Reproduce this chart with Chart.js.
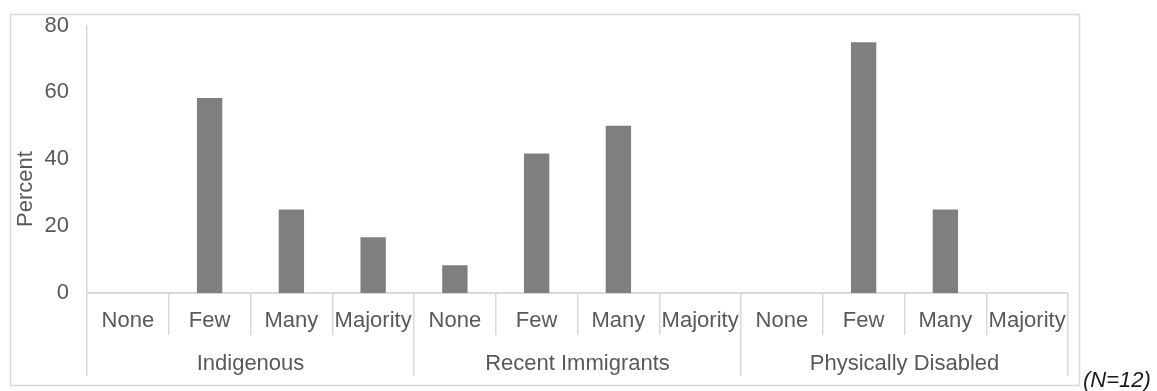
<!DOCTYPE html>
<html>
<head>
<meta charset="utf-8">
<title>Percent by group</title>
<script src="https://cdn.jsdelivr.net/npm/chart.js@4.4.1/dist/chart.umd.min.js"></script>
<style>
  html, body { margin: 0; padding: 0; background: #ffffff; }
  #chart { display: block; }
</style>
</head>
<body>
<canvas id="chart" width="1157" height="391"></canvas>
<script>
  // --- data ---
  var levelLabels = ['None', 'Few', 'Many', 'Majority',
                     'None', 'Few', 'Many', 'Majority',
                     'None', 'Few', 'Many', 'Majority'];
  var groupLabels = ['Indigenous', 'Recent Immigrants', 'Physically Disabled'];
  var percentValues = [0, 58.3, 25, 16.7,
                       8.3, 41.7, 50, 0,
                       0, 75, 25, 0];
  var yTickValues = [0, 20, 40, 60, 80];
  var yTitle = 'Percent';
  var sampleNote = '(N=12)';

  var LINE = '#d9d9d9';
  var TEXT = '#595959';
  var FONT = '"Liberation Sans", Arial, sans-serif';

  // outer frame, the rotated axis title and the sample size note
  var framePlugin = {
    id: 'frame',
    beforeDraw: function (chart) {
      var ctx = chart.ctx;
      ctx.save();
      ctx.fillStyle = '#ffffff';
      ctx.fillRect(0, 0, chart.width, chart.height);
      ctx.restore();
    },
    afterDraw: function (chart) {
      var ctx = chart.ctx;
      ctx.save();
      ctx.strokeStyle = LINE;
      ctx.lineWidth = 1.5;
      ctx.strokeRect(10.5, 14.5, 1069, 371);

      ctx.fillStyle = TEXT;
      ctx.font = '22px ' + FONT;
      ctx.textAlign = 'center';
      ctx.textBaseline = 'middle';
      ctx.translate(26, 189);
      ctx.rotate(-Math.PI / 2);
      ctx.fillText(yTitle, 0, 0);
      ctx.restore();

      ctx.save();
      ctx.fillStyle = '#1a1a1a';
      ctx.font = 'italic 22px ' + FONT;
      ctx.textBaseline = 'alphabetic';
      ctx.textAlign = 'left';
      ctx.fillText(sampleNote, 1083, 387);
      ctx.restore();
    }
  };

  var ctx = document.getElementById('chart').getContext('2d');
  new Chart(ctx, {
    type: 'bar',
    data: {
      labels: levelLabels,
      datasets: [{
        label: 'Percent',
        data: percentValues,
        backgroundColor: '#7f7f7f',
        borderWidth: 0,
        categoryPercentage: 1,
        barPercentage: 0.31,
        xAxisID: 'x',
        yAxisID: 'y'
      }]
    },
    options: {
      responsive: false,
      animation: false,
      layout: { padding: { left: 10, right: 89, top: 25.5, bottom: 15 } },
      plugins: {
        legend: { display: false },
        tooltip: { enabled: false }
      },
      scales: {
        x: {
          type: 'category',
          position: 'bottom',
          offset: true,
          grid: {
            display: true, offset: true, drawOnChartArea: false,
            drawTicks: true, tickLength: 42, color: LINE, lineWidth: 1.5
          },
          border: { display: true, color: LINE, width: 2 },
          ticks: {
            color: TEXT, padding: -27, maxRotation: 0, autoSkip: false,
            font: { family: FONT, size: 22 }
          },
          afterFit: function (scale) { scale.height = 42; }
        },
        x2: {
          type: 'category',
          position: 'bottom',
          labels: groupLabels,
          offset: true,
          grid: {
            display: true, offset: true, drawOnChartArea: false,
            drawTicks: true, tickLength: 41, color: LINE, lineWidth: 1.5
          },
          border: { display: false },
          ticks: {
            color: TEXT, padding: -25, maxRotation: 0, autoSkip: false,
            font: { family: FONT, size: 22 }
          },
          afterFit: function (scale) { scale.height = 41; }
        },
        y: {
          min: 0,
          max: 80,
          afterBuildTicks: function (scale) {
            scale.ticks = yTickValues.map(function (v) { return { value: v }; });
          },
          grid: { display: false },
          border: { display: true, color: LINE, width: 1.5 },
          ticks: {
            color: TEXT, padding: 10,
            font: { family: FONT, size: 22 }
          },
          title: { display: false },
          afterFit: function (scale) {
            scale.width = 77;
            scale.paddingTop = 0;
            scale.paddingBottom = 0;
          }
        }
      }
    },
    plugins: [framePlugin]
  });
</script>
</body>
</html>
